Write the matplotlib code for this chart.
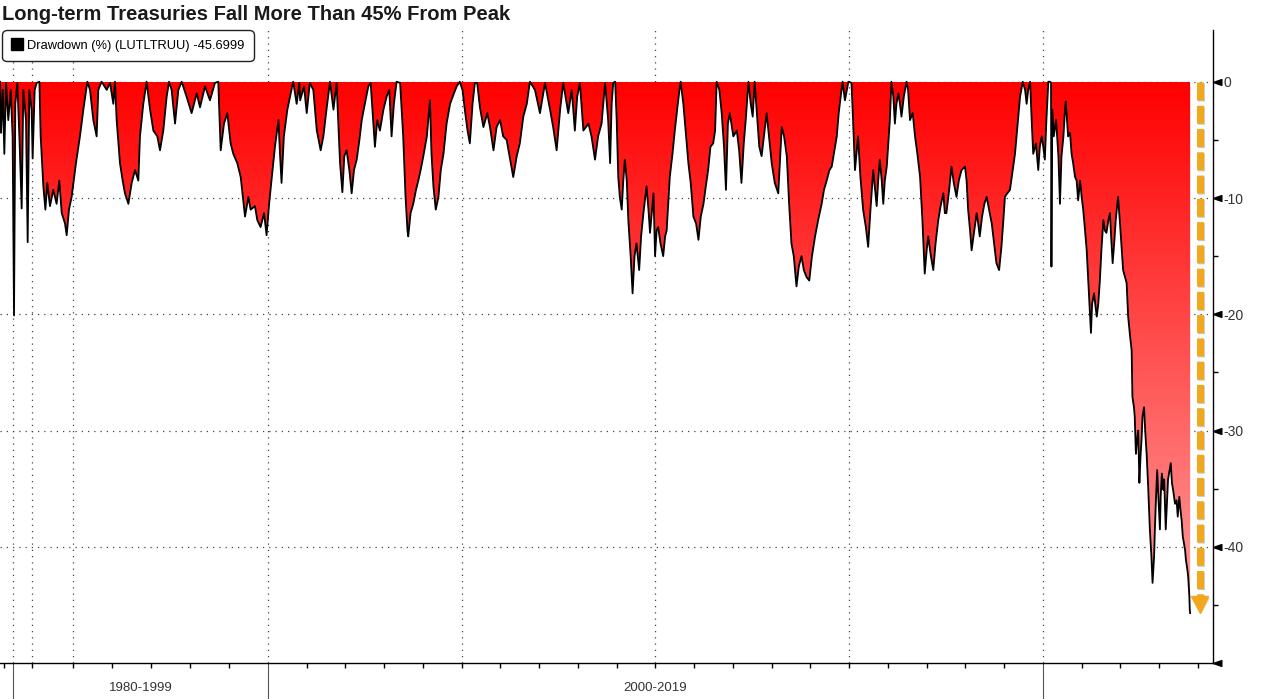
import numpy as np
import matplotlib
matplotlib.use('Agg')
import matplotlib.pyplot as plt
from matplotlib.colors import LinearSegmentedColormap
from matplotlib.lines import Line2D
from matplotlib.path import Path
from matplotlib.ticker import NullFormatter
import matplotlib.patheffects as pe

plt.rcParams['font.family'] = ['Liberation Sans', 'DejaVu Sans']

# ---- data (decimal year, drawdown %) ----
years = [
    1978.98, 1979.06, 1979.19, 1979.32, 1979.45, 1979.63, 1979.82, 1979.97, 1980.08, 1980.18,
    1980.34, 1980.50, 1980.68, 1980.81, 1981.02, 1981.15, 1981.28, 1981.46, 1981.54, 1981.70,
    1981.86, 1982.07, 1982.17, 1982.38, 1982.54, 1982.69, 1982.90, 1983.16, 1983.42, 1983.63,
    1983.82, 1984.08, 1984.21, 1984.39, 1984.60, 1984.94, 1985.25, 1985.52, 1985.83, 1986.04,
    1986.30, 1986.56, 1986.69, 1986.95, 1987.35, 1987.61, 1987.87, 1988.00, 1988.13, 1988.39,
    1988.60, 1988.78, 1989.05, 1989.31, 1989.57, 1989.83, 1989.96, 1990.22, 1990.48, 1990.75,
    1991.01, 1991.32, 1991.53, 1991.79, 1992.05, 1992.24, 1992.44, 1992.71, 1992.97, 1993.23,
    1993.62, 1994.01, 1994.41, 1994.67, 1995.06, 1995.45, 1995.84, 1996.10, 1996.29, 1996.55,
    1996.81, 1997.07, 1997.28, 1997.59, 1997.86, 1998.20, 1998.46, 1998.64, 1998.98, 1999.16,
    1999.42, 1999.69, 1999.89, 2000.03, 2000.09, 2000.18, 2000.27, 2000.31, 2000.35, 2000.41,
    2000.50, 2000.57, 2000.65, 2000.74, 2000.81, 2000.83, 2000.93, 2001.00, 2001.08, 2001.17,
    2001.26, 2001.36, 2001.43, 2001.51, 2001.60, 2001.69, 2001.77, 2001.86, 2001.92, 2001.97,
    2002.03, 2002.10, 2002.16, 2002.22, 2002.29, 2002.36, 2002.42, 2002.50, 2002.59, 2002.65,
    2002.76, 2002.82, 2002.89, 2002.98, 2003.06, 2003.13, 2003.19, 2003.25, 2003.32, 2003.41,
    2003.49, 2003.55, 2003.60, 2003.62, 2003.68, 2003.75, 2003.82, 2003.88, 2003.94, 2004.01,
    2004.10, 2004.18, 2004.22, 2004.27, 2004.33, 2004.40, 2004.46, 2004.53, 2004.61, 2004.70,
    2004.80, 2004.87, 2004.95, 2005.02, 2005.08, 2005.15, 2005.21, 2005.28, 2005.34, 2005.40,
    2005.47, 2005.56, 2005.66, 2005.73, 2005.82, 2005.90, 2005.99, 2006.07, 2006.16, 2006.25,
    2006.33, 2006.42, 2006.50, 2006.59, 2006.68, 2006.76, 2006.89, 2007.02, 2007.15, 2007.28,
    2007.36, 2007.45, 2007.54, 2007.62, 2007.75, 2007.84, 2007.92, 2007.98, 2008.05, 2008.14,
    2008.27, 2008.35, 2008.44, 2008.52, 2008.61, 2008.70, 2008.78, 2008.83, 2008.87, 2008.91,
    2008.96, 2009.00, 2009.04, 2009.08, 2009.13, 2009.17, 2009.21, 2009.26, 2009.30, 2009.36,
    2009.41, 2009.46, 2009.51, 2009.58, 2009.63, 2009.69, 2009.77, 2009.82, 2009.86, 2009.95,
    2009.99, 2010.03, 2010.07, 2010.13, 2010.20, 2010.25, 2010.29, 2010.33, 2010.37, 2010.44,
    2010.50, 2010.56, 2010.62, 2010.65, 2010.72, 2010.79, 2010.85, 2010.91, 2010.98, 2011.05,
    2011.11, 2011.17, 2011.24, 2011.30, 2011.36, 2011.42, 2011.49, 2011.54, 2011.58, 2011.65,
    2011.71, 2011.77, 2011.82, 2011.87, 2011.92, 2012.01, 2012.10, 2012.16, 2012.22, 2012.28,
    2012.33, 2012.40, 2012.46, 2012.51, 2012.56, 2012.63, 2012.68, 2012.74, 2012.80, 2012.87,
    2012.93, 2013.00, 2013.08, 2013.17, 2013.26, 2013.32, 2013.39, 2013.45, 2013.51, 2013.57,
    2013.64, 2013.70, 2013.77, 2013.83, 2013.90, 2013.97, 2014.04, 2014.12, 2014.20, 2014.29,
    2014.35, 2014.42, 2014.49, 2014.55, 2014.62, 2014.68, 2014.73, 2014.78, 2014.83, 2014.89,
    2014.98, 2015.06, 2015.10, 2015.15, 2015.19, 2015.23, 2015.29, 2015.36, 2015.43, 2015.49,
    2015.55, 2015.62, 2015.66, 2015.71, 2015.75, 2015.79, 2015.84, 2015.88, 2015.92, 2015.97,
    2016.01, 2016.05, 2016.09, 2016.14, 2016.18, 2016.22, 2016.27, 2016.31, 2016.35, 2016.41,
    2016.48, 2016.52, 2016.57, 2016.64, 2016.70, 2016.76, 2016.83, 2016.89, 2016.95, 2017.00,
    2017.04, 2017.10, 2017.17, 2017.23, 2017.30, 2017.36, 2017.43, 2017.47, 2017.51, 2017.58,
    2017.64, 2017.70, 2017.77, 2017.83, 2017.90, 2017.99, 2018.03, 2018.07, 2018.12, 2018.16,
    2018.22, 2018.29, 2018.33, 2018.37, 2018.43, 2018.49, 2018.55, 2018.61, 2018.68, 2018.74,
    2018.80, 2018.87, 2018.93, 2018.98, 2019.02, 2019.08, 2019.15, 2019.22, 2019.28, 2019.34,
    2019.41, 2019.48, 2019.54, 2019.58, 2019.62, 2019.67, 2019.71, 2019.75, 2019.82, 2019.88,
    2019.92, 2019.97, 2020.01, 2020.05, 2020.09, 2020.14, 2020.18, 2020.21, 2020.22, 2020.24,
    2020.28, 2020.34, 2020.40, 2020.44, 2020.48, 2020.53, 2020.57, 2020.59, 2020.65, 2020.70,
    2020.74, 2020.78, 2020.83, 2020.87, 2020.91, 2020.96, 2021.00, 2021.04, 2021.08, 2021.13,
    2021.17, 2021.20, 2021.24, 2021.27, 2021.32, 2021.35, 2021.39, 2021.43, 2021.47, 2021.51,
    2021.56, 2021.60, 2021.64, 2021.69, 2021.73, 2021.76, 2021.80, 2021.84, 2021.88, 2021.94,
    2021.99, 2022.03, 2022.07, 2022.12, 2022.16, 2022.20, 2022.25, 2022.29, 2022.31, 2022.35,
    2022.37, 2022.40, 2022.43, 2022.46, 2022.49, 2022.52, 2022.55, 2022.57, 2022.61, 2022.64,
    2022.68, 2022.72, 2022.76, 2022.80, 2022.83, 2022.87, 2022.89, 2022.92, 2022.95, 2022.98,
    2023.02, 2023.04, 2023.07, 2023.11, 2023.13, 2023.17, 2023.21, 2023.23, 2023.27, 2023.30,
    2023.33, 2023.36, 2023.41, 2023.45, 2023.48, 2023.52, 2023.55, 2023.58, 2023.61, 2023.64,
    2023.67, 2023.69, 2023.73, 2023.75, 2023.78, 2023.79, 2023.80,
]
drawdown = [
    0, -4.4, -0.7, -6.2, -0.1, -3.3, -0.7, -4.7, -20.1, -1.9,
    -0.1, -4.7, -10.9, -0.7, -3.3, -13.8, -0.7, -2.4, -6.6, -0.7,
    -0.1, 0, -4.7, -9.0, -11.0, -8.7, -10.7, -9.3, -10.5, -8.5,
    -11.3, -12.2, -13.2, -11.0, -9.9, -7.0, -4.7, -2.4, 0, -0.7,
    -3.3, -4.7, -0.7, 0, -0.7, -0.1, -1.9, 0, -3.3, -7.0,
    -8.5, -9.6, -10.5, -8.7, -7.6, -8.5, -4.7, -1.9, 0, -2.4,
    -4.2, -4.7, -5.9, -4.2, -1.3, 0, -0.7, -3.6, -0.7, 0,
    -1.3, -2.7, -1.0, -2.2, -0.4, -1.6, -0.1, 0, -5.9, -3.6,
    -2.7, -5.3, -6.2, -7.0, -8.2, -11.6, -9.9, -11.0, -10.7, -11.9,
    -12.5, -11.3, -13.2, -10.5, -8.5, -5.6, -3.3, -6.2, -8.7, -4.7,
    -2.4, -1.3, 0, -1.9, -0.1, -1.6, -0.4, -2.7, -0.1, -0.7,
    -4.2, -5.9, -4.7, -2.4, 0, -2.4, -0.1, -7.0, -9.5, -6.4,
    -5.9, -7.6, -9.6, -7.6, -6.7, -5.0, -3.3, -1.9, -0.4, -0.1,
    -5.6, -3.3, -4.2, -2.4, -1.3, -0.7, -4.7, -1.9, 0, -0.1,
    -4.7, -9.9, -12.8, -13.3, -11.3, -10.5, -9.3, -8.5, -7.6, -6.4,
    -4.7, -1.6, -6.2, -9.0, -11.0, -9.9, -7.6, -6.2, -3.6, -1.9,
    -1.0, -0.4, 0, -0.7, -2.4, -4.2, -5.3, -1.9, -0.1, -0.1,
    -2.2, -3.9, -2.7, -3.9, -5.9, -3.9, -3.3, -4.7, -5.0, -6.7,
    -8.2, -6.4, -5.3, -3.0, -1.9, 0, -0.7, -2.7, -0.1, -2.4,
    -3.9, -5.9, -2.4, -0.1, -2.7, -0.7, -4.2, -1.3, -0.1, -4.2,
    -3.6, -4.7, -6.7, -4.7, -3.6, -0.1, -3.3, -7.0, -1.9, -0.1,
    0, -3.3, -8.2, -9.9, -11.0, -8.5, -6.7, -8.5, -11.9, -15.0,
    -18.2, -15.0, -13.9, -16.2, -13.3, -11.3, -9.0, -11.0, -13.0, -9.6,
    -15.0, -12.8, -12.5, -13.9, -15.0, -13.3, -12.8, -10.5, -8.2, -6.2,
    -4.2, -2.4, -0.7, 0, -1.9, -4.7, -7.0, -8.7, -11.6, -12.2,
    -13.6, -11.6, -10.5, -9.0, -7.6, -5.6, -5.3, -4.2, 0, -0.7,
    -2.7, -5.6, -9.3, -3.6, -2.7, -4.7, -4.2, -5.9, -8.7, -5.3,
    -3.3, 0, -1.9, -3.0, 0, -3.3, -5.6, -6.4, -4.7, -2.7,
    -4.7, -7.0, -8.7, -9.6, -3.9, -4.7, -6.4, -10.5, -13.9, -15.0,
    -17.6, -15.9, -15.0, -16.2, -16.8, -17.1, -15.0, -13.3, -11.9, -10.5,
    -9.3, -8.5, -7.6, -7.3, -5.9, -4.7, -2.7, -1.3, 0, -1.6,
    0, -0.1, -3.3, -7.6, -6.2, -4.7, -8.2, -11.0, -12.5, -14.2,
    -11.0, -7.6, -9.0, -10.7, -8.5, -6.7, -8.5, -10.5, -8.5, -7.3,
    -5.3, -3.3, 0, -1.3, -3.6, -1.9, -1.0, -1.9, -3.0, -1.3,
    0, -0.7, -3.3, -2.7, -4.7, -6.2, -8.2, -11.9, -16.5, -14.5,
    -13.3, -14.8, -16.2, -13.9, -11.9, -10.7, -9.6, -11.3, -11.3, -9.3,
    -7.3, -8.7, -9.9, -8.5, -7.6, -7.3, -8.5, -11.0, -12.8, -14.5,
    -13.0, -11.3, -12.2, -13.3, -11.6, -10.5, -9.9, -11.0, -12.2, -13.9,
    -15.6, -16.2, -14.2, -11.9, -9.9, -9.6, -9.3, -7.6, -6.2, -3.9,
    -1.3, 0, -0.7, -1.9, -0.7, 0, -3.3, -6.2, -5.3, -7.6,
    -5.6, -4.7, -5.6, -6.7, -3.3, 0, 0, -0.1, -15.9, -2.4,
    -4.7, -3.3, -6.4, -10.5, -6.4, -4.7, -2.4, -1.7, -4.7, -4.4,
    -6.2, -7.0, -8.2, -8.5, -10.2, -8.5, -9.9, -11.0, -12.5, -14.5,
    -17.1, -19.1, -21.6, -19.1, -18.2, -19.1, -20.2, -19.1, -17.1, -14.5,
    -11.9, -12.8, -13.0, -11.9, -11.3, -13.3, -15.6, -13.9, -11.9, -9.9,
    -12.2, -14.2, -16.2, -16.8, -17.3, -20.2, -21.9, -23.1, -27.1, -28.0,
    -28.8, -32.0, -30.8, -30.0, -34.5, -32.2, -30.5, -28.8, -28.0, -30.0,
    -32.2, -35.1, -38.5, -40.8, -43.1, -40.8, -38.5, -35.7, -33.4, -35.7,
    -38.5, -35.7, -33.7, -35.1, -34.2, -38.5, -35.7, -34.2, -33.4, -32.8,
    -34.5, -35.1, -36.3, -36.0, -37.4, -35.7, -36.8, -37.7, -39.1, -39.7,
    -40.3, -41.1, -42.0, -42.6, -44.3, -45.4, -45.6999,
]

period_labels = ['1980-1999', '2000-2019']
period_centers = [1990, 2010]
period_edges = [1980, 2000, 2020]
y_ticks = [0, -10, -20, -30, -40]
ticker_name = 'Drawdown (%) (LUTLTRUU)'
title = 'Long-term Treasuries Fall More Than 45% From Peak'

# the time axis is compressed before 2000, like the original terminal chart
def fwd(x):
    return np.interp(x, [1960, 2000, 2060], [-510.0, 0.0, 2325.0])


def inv(v):
    return np.interp(v, [-510.0, 0.0, 2325.0], [1960, 2000, 2060])


fig = plt.figure(figsize=(12.8, 6.99), dpi=100)
ax = fig.add_axes([0.0, 36.5 / 699, 1213 / 1280, 632.5 / 699])
ax.set_xscale('function', functions=(fwd, inv))
x0, x1 = 1978.98, 2024.39
y0, y1 = -49.95, 4.45

# dotted grid underneath the fill
grid_style = dict(color='#444444', lw=0.9, ls=(0, (1, 4)), zorder=0)
for y in y_ticks:
    ax.axhline(y, **grid_style)
for x in [1980, 1981.5, 1984.7, 2000, 2005, 2010, 2015, 2020]:
    ax.axvline(x, **grid_style)

# gradient red area clipped to the drawdown polygon
area = ax.fill_between(years, drawdown, 0, facecolor='none', edgecolor='none')
cmap = LinearSegmentedColormap.from_list('dd', ['#ff0000', '#ffa2a2'])
grad = np.linspace(0, 1, 256).reshape(-1, 1)
im = ax.imshow(grad, extent=[x0, x1, -47, 0], origin='upper', aspect='auto',
               cmap=cmap, zorder=1, interpolation='bilinear')
im.set_clip_path(area.get_paths()[0], transform=ax.transData)

ax.plot(years, drawdown, color='black', lw=1.3, zorder=3)

# orange dashed arrow down to the latest value
arrow_x = 2024.05
ax.plot([arrow_x, arrow_x], [0, drawdown[-1] + 1.0], color='#f2a81d', lw=5,
        ls=(0, (2.6, 0.75)), zorder=4,
        path_effects=[pe.SimpleLineShadow(offset=(1.2, -1.2), alpha=0.2), pe.Normal()])
ax.plot([arrow_x], [drawdown[-1] + 0.75], marker='v', ms=12, color='#f2a81d',
        ls='none', zorder=4, clip_on=False,
        path_effects=[pe.SimplePatchShadow(offset=(1.2, -1.2), alpha=0.2), pe.Normal()])

ax.set_xlim(x0, x1)
ax.set_ylim(y0, y1)

# spines
for s in ['left', 'top']:
    ax.spines[s].set_visible(False)
ax.spines['right'].set_linewidth(1.0)
ax.spines['bottom'].set_linewidth(1.0)

# right axis ticks with little triangles
ax.yaxis.tick_right()
ax.set_yticks(y_ticks)
ax.set_yticklabels([str(v) for v in y_ticks])
ax.set_yticks([-5, -15, -25, -35, -45], minor=True)
ax.tick_params(axis='y', which='major', length=0, pad=7.5, labelsize=10, labelcolor='#333333')
ax.tick_params(axis='y', which='minor', length=3.5, width=1, color='black')
tri = Path([(0, 0), (1, 0.35), (1, -0.35), (0, 0)])
ax.plot([1] * 6, [0, -10, -20, -30, -40, -50], transform=ax.get_yaxis_transform(),
        marker=tri, ms=12, color='black', ls='none', clip_on=False, zorder=5)

# bottom axis: yearly ticks, long period separators
minor_x = [1979.26, 1981.49, 1984.71, 1987.76, 1990.82, 1993.88, 1996.94] + \
          list(range(2001, 2020)) + [2021, 2022, 2023, 2024]
ax.set_xticks(period_edges)
ax.set_xticks(minor_x, minor=True)
ax.xaxis.set_major_formatter(NullFormatter())
ax.xaxis.set_minor_formatter(NullFormatter())
ax.tick_params(axis='x', which='major', length=26, width=0.8, color='#555555')
ax.tick_params(axis='x', which='minor', length=3.5, width=1, color='black')
for xc, lab in zip(period_centers, period_labels):
    ax.text(xc, -0.04, lab, transform=ax.get_xaxis_transform(), ha='center',
            va='center', fontsize=9.5, color='#333333')

# legend box
handle = Line2D([], [], marker='s', ms=8, color='black', ls='none')
leg = ax.legend([handle], [f'{ticker_name} {drawdown[-1]:.4f}'], loc='upper left',
                bbox_to_anchor=(2 / 1280, 1 - 30 / 699), bbox_transform=fig.transFigure,
                borderaxespad=0, fontsize=9.3, handlelength=0.8, handletextpad=0.35,
                borderpad=0.75, frameon=True, fancybox=True)
frame = leg.get_frame()
frame.set_edgecolor('#222222')
frame.set_linewidth(1.0)
frame.set_alpha(1)
frame.set_boxstyle('round,pad=0,rounding_size=0.35')
leg.set_zorder(6)

fig.text(2 / 1280, 1 - 14 / 699, title, fontsize=14.5, fontweight='bold',
         color='#1a1a1a', ha='left', va='center')

fig.savefig('out.png', dpi=100)
